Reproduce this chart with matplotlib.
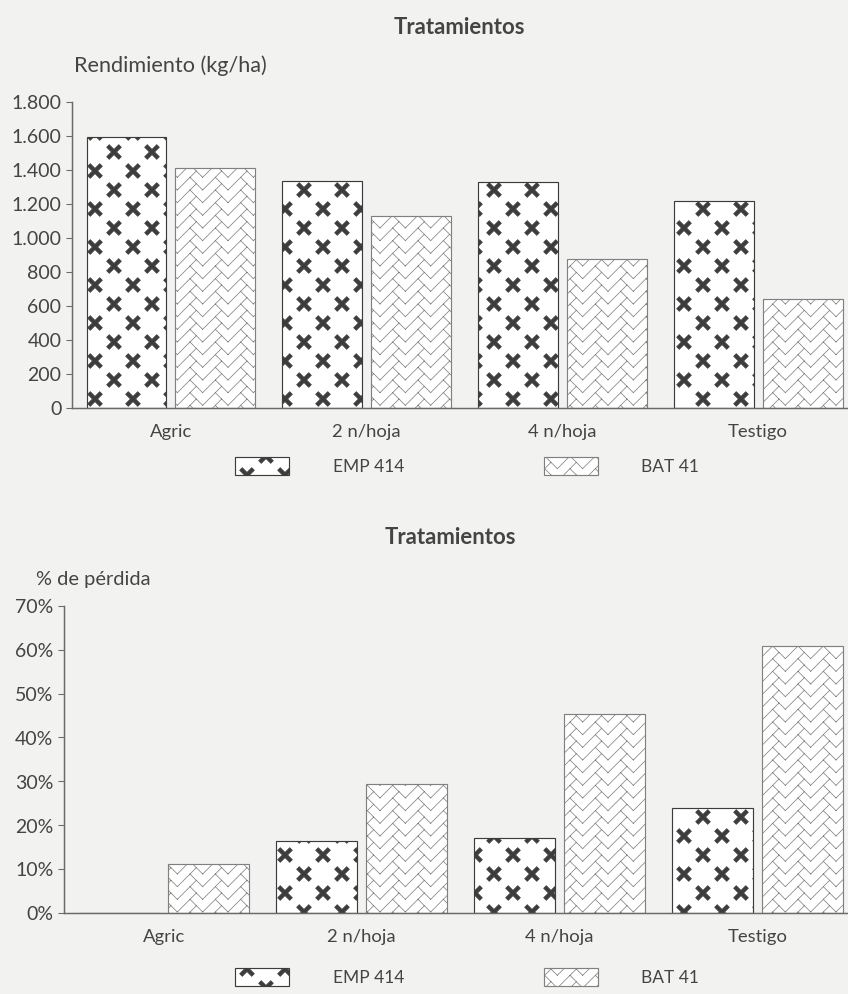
import numpy as np
import matplotlib
matplotlib.use('Agg')
import matplotlib.pyplot as plt
import matplotlib.hatch as mhatch
from matplotlib.path import Path

# ---------------------------------------------------------------
# Datos
# ---------------------------------------------------------------
categorias = ['Agric', '2 n/hoja', '4 n/hoja', 'Testigo']
variedades = ['EMP 414', 'BAT 41']

rend_emp = [1590, 1332, 1326, 1216]      # kg/ha
rend_bat = [1410, 1127, 875, 639]
perd_emp = [0.0, 16.3, 17.0, 24.0]       # %
perd_bat = [11.2, 29.3, 45.4, 60.8]

rend_ticks = [0, 200, 400, 600, 800, 1000, 1200, 1400, 1600, 1800]
rend_tick_labels = ['0', '200', '400', '600', '800', '1.000', '1.200',
                    '1.400', '1.600', '1.800']
perd_ticks = [0, 10, 20, 30, 40, 50, 60, 70]
perd_tick_labels = ['0%', '10%', '20%', '30%', '40%', '50%', '60%', '70%']


# ---------------------------------------------------------------
# Tramas propias: aspas rellenas ('x') y espiga / herringbone ('/')
# ---------------------------------------------------------------
class TramaAspas:
    def __init__(self, hatch, density):
        self.num_vertices = 0
        if 'x' not in hatch:
            return
        a, t = 0.112, 0.024
        cruz = np.array([[t, t], [t, a], [-t, a], [-t, t], [-a, t], [-a, -t],
                         [-t, -t], [-t, -a], [t, -a], [t, -t], [a, -t], [a, t]])
        c = np.cos(np.pi / 4)
        cruz = cruz @ np.array([[c, c], [-c, c]])
        verts, codes = [], []
        for fila in range(-1, 6):
            desp = 0.25 if fila % 2 else 0.0
            for col in range(-1, 3):
                centro = np.array([col * 0.5 + desp, fila * 0.25])
                pts = cruz + centro
                verts.extend(pts.tolist())
                verts.append(pts[0].tolist())
                codes.extend([Path.MOVETO] + [Path.LINETO] * 11 + [Path.CLOSEPOLY])
        self.verts = np.array(verts)
        self.codes = np.array(codes)
        self.num_vertices = len(self.verts)

    def set_vertices_and_codes(self, vertices, codes):
        vertices[:] = self.verts
        codes[:] = self.codes


class TramaEspiga:
    def __init__(self, hatch, density):
        self.num_vertices = 0
        if '/' not in hatch:
            return
        h = 1 / 6.
        s = 1 / 6.
        segs = []
        for k in range(-2, 9):
            y0 = k * s
            for j in range(-1, 4):
                x0 = 2 * j * h
                # pata ascendente, prolongada tras el pico (testa del ladrillo)
                segs.append([(x0, y0), (x0 + h + s / 2, y0 + h + s / 2)])
                # pata descendente
                segs.append([(x0 + h, y0 + h), (x0 + 2 * h, y0)])
        verts, codes = [], []
        for p, q in segs:
            verts.extend([p, q])
            codes.extend([Path.MOVETO, Path.LINETO])
        self.verts = np.array(verts)
        self.codes = np.array(codes)
        self.num_vertices = len(self.verts)

    def set_vertices_and_codes(self, vertices, codes):
        vertices[:] = self.verts
        codes[:] = self.codes


mhatch._hatch_types = [TramaAspas, TramaEspiga]

# ---------------------------------------------------------------
# Estilo
# ---------------------------------------------------------------
DPI = 76
plt.rcParams['font.family'] = ['Lato', 'DejaVu Sans']
plt.rcParams['hatch.linewidth'] = 0.7
gris_txt = '#444444'
gris_eje = '#6a6a6a'
fondo = '#f2f2f0'

fig = plt.figure(figsize=(848.3 / DPI, 994.3 / DPI), dpi=DPI, facecolor=fondo)

W, H = 848.0, 994.0


def caja(x0, y0, x1, y1):
    # píxeles (arriba-izquierda) -> fracción de figura
    return [x0 / W, 1 - y1 / H, (x1 - x0) / W, (y1 - y0) / H]


def dibuja(ax, emp, bat, ticks, tick_labels, ymax):
    x = np.arange(len(categorias))
    ancho = 0.408
    sep = 0.227
    b1 = ax.bar(x - sep, emp, ancho, facecolor='white', edgecolor='#3c3c3c',
                linewidth=1.1, hatch='x', label=variedades[0])
    b2 = ax.bar(x + sep, bat, ancho, facecolor='white', edgecolor='#808080',
                linewidth=1.1, hatch='/', label=variedades[1])
    ax.set_facecolor(fondo)
    ax.set_ylim(0, ymax)
    ax.set_xlim(-0.505, 3.46)
    ax.set_yticks(ticks)
    ax.set_yticklabels(tick_labels)
    ax.set_xticks(x)
    ax.set_xticklabels(categorias)
    for lado in ['top', 'right']:
        ax.spines[lado].set_visible(False)
    for lado in ['left', 'bottom']:
        ax.spines[lado].set_color(gris_eje)
        ax.spines[lado].set_linewidth(1.4)
    ax.tick_params(axis='y', length=6, width=1.0, color=gris_eje, pad=4,
                   labelsize=18.5, labelcolor=gris_txt)
    ax.tick_params(axis='x', length=0, pad=15, labelsize=17.5,
                   labelcolor=gris_txt)
    return b1, b2


# Gráfico superior: rendimiento
ax1 = fig.add_axes(caja(72, 102, 848, 408))
b1, b2 = dibuja(ax1, rend_emp, rend_bat, rend_ticks, rend_tick_labels, 1800)

# Gráfico inferior: % de pérdida
ax2 = fig.add_axes(caja(64, 606, 848, 913))
dibuja(ax2, perd_emp, perd_bat, perd_ticks, perd_tick_labels, 70)

# Títulos
fig.text(459 / W, 1 - 27 / H, 'Tratamientos', ha='center', va='center',
         fontsize=21, fontweight='bold', color=gris_txt)
fig.text(74 / W, 1 - 66 / H, 'Rendimiento (kg/ha)', ha='left', va='center',
         fontsize=20.5, color=gris_txt)
fig.text(450 / W, 1 - 537 / H, 'Tratamientos', ha='center', va='center',
         fontsize=21, fontweight='bold', color=gris_txt)
fig.text(36 / W, 1 - 579 / H, '% de pérdida', ha='left', va='center',
         fontsize=19, color=gris_txt)

# Leyendas
for yc in [466, 977]:
    fig.legend([b1, b2], variedades, loc='center',
               bbox_to_anchor=(467 / W, 1 - yc / H), ncol=2, frameon=False,
               handlelength=3.1, handleheight=1.2, handletextpad=2.5,
               columnspacing=8.0, fontsize=16.5, labelcolor=gris_txt)

fig.savefig('out.png', dpi=DPI, facecolor=fondo)
